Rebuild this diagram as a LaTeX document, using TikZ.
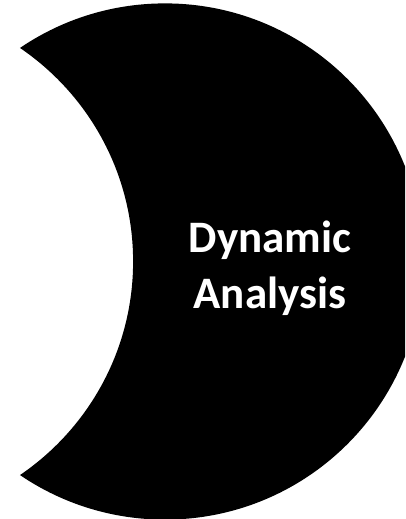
\documentclass[tikz,border=0pt]{standalone}
\usepackage{fontspec}
\setmainfont{Carlito}

\begin{document}
\begin{tikzpicture}[
    x=1pt, y=-1pt,
    every node/.style={font=\bfseries},
    moonlabel/.style={text=white, align=center, font=\bfseries\fontsize{45}{56}\selectfont},
]

% Parameters
\def\Rmoon{258.1}
\def\Cout{165}    % centre of the outer arc
\def\Cin{-125}    % centre of the cut-out arc
\def\Cy{261.5}

\useasboundingbox (0,0) rectangle (405,519);

% === Crescent (outer disc minus inner disc, cut at the page) ===
\begin{scope}
    \clip (0,0) rectangle (405,519);
    \clip (\Cout,\Cy) circle (\Rmoon);
    \fill[black, even odd rule]
        (-200,-20) rectangle (600,540)
        (\Cin,\Cy) circle (\Rmoon);
\end{scope}

% === Label ===
\node[moonlabel] (dyn) at (270,268) {Dynamic\\Analysis};

\end{tikzpicture}
\end{document}
